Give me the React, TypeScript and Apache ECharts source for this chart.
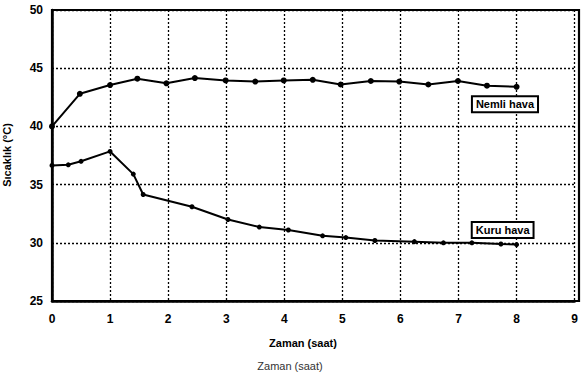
import React, { useEffect, useRef } from "react";
import * as echarts from "echarts";

const nemliTime = [0, 0.48, 1, 1.47, 1.97, 2.46, 2.99, 3.5, 3.99, 4.49, 4.97, 5.49, 5.98, 6.48, 6.99, 7.49, 8.0];
const nemliTemp = [40.0, 42.8, 43.55, 44.1, 43.7, 44.15, 43.95, 43.85, 43.95, 44.0, 43.6, 43.9, 43.85, 43.6, 43.9, 43.5, 43.4];
const kuruTime = [0, 0.28, 0.5, 1, 1.4, 1.57, 2.41, 3.03, 3.57, 4.07, 4.66, 5.06, 5.56, 6.24, 6.74, 7.23, 7.73, 8.0];
const kuruTemp = [36.65, 36.7, 37.0, 37.85, 35.9, 34.15, 33.1, 32.0, 31.35, 31.1, 30.6, 30.45, 30.2, 30.1, 30.0, 30.0, 29.9, 29.85];
const xTicks = [0, 1, 2, 3, 4, 5, 6, 7, 8, 9];
const yTicks = [25, 30, 35, 40, 45, 50];
const nemliLabel = { text: "Nemli hava", at: [7.8, 41.9] };
const kuruLabel = { text: "Kuru hava", at: [7.76, 31.1] };

const FONT = "'Liberation Sans', Arial, sans-serif";
const GRID = { left: 52, top: 10, width: 527, height: 291 };

export default function App() {
  const ref = useRef<HTMLDivElement>(null);
  useEffect(() => {
    if (!ref.current) return;
    const chart = echarts.init(ref.current, null, { renderer: "svg" });
    const pairs = (xs: number[], ys: number[]) => xs.map((x, i) => [x, ys[i]]);
    const boxLabel = (l: { text: string; at: number[] }) => ({
      symbol: "circle",
      symbolSize: 0,
      data: [
        {
          coord: l.at,
          value: l.text,
          label: {
            show: true,
            position: "inside",
            formatter: l.text,
            color: "#000",
            fontFamily: "'Liberation Sans Narrow', 'Liberation Sans', Arial, sans-serif",
            fontWeight: "bold",
            fontSize: 11,
            backgroundColor: "#fff",
            borderColor: "#000",
            borderWidth: 2,
            padding: [2, 3, 1, 3],
          },
        },
      ],
    });
    const frameAxis = { show: true, onZero: false, lineStyle: { color: "#000", width: 2.5 } };
    chart.setOption({
      animation: false,
      backgroundColor: "#fff",
      grid: GRID,
      xAxis: {
        type: "value",
        min: xTicks[0],
        max: xTicks[xTicks.length - 1],
        interval: 1,
        axisLine: frameAxis,
        axisTick: { show: false },
        axisLabel: {
          color: "#000",
          fontFamily: FONT,
          fontWeight: "bold",
          fontSize: 12,
          margin: 12,
          showMaxLabel: true,
        },
        splitLine: { show: true, lineStyle: { color: "#000", width: 1.3, type: [2, 2] } },
      },
      yAxis: {
        type: "value",
        min: yTicks[0],
        max: yTicks[yTicks.length - 1],
        interval: 5,
        axisLine: frameAxis,
        axisTick: { show: false },
        axisLabel: {
          color: "#000",
          fontFamily: FONT,
          fontWeight: "bold",
          fontSize: 12,
          margin: 9,
        },
        splitLine: { show: true, lineStyle: { color: "#000", width: 1.3, type: [2, 2] } },
      },
      graphic: [
        {
          type: "rect",
          z: 5,
          shape: { x: GRID.left, y: GRID.top, width: GRID.width, height: GRID.height },
          style: { fill: "none", stroke: "#000", lineWidth: 2.2 },
          silent: true,
        },
        {
          type: "text",
          x: 7,
          y: 155,
          rotation: Math.PI / 2,
          style: {
            text: "Sıcaklık (°C)",
            fill: "#000",
            font: `bold 11px ${FONT}`,
            align: "center",
            verticalAlign: "middle",
          },
        },
        {
          type: "text",
          x: 303,
          y: 343,
          style: {
            text: "Zaman (saat)",
            fill: "#000",
            font: `bold 11px ${FONT}`,
            align: "center",
            verticalAlign: "middle",
          },
        },
        {
          type: "text",
          x: 290,
          y: 366,
          style: {
            text: "Zaman (saat)",
            fill: "#333",
            font: `11px ${FONT}`,
            align: "center",
            verticalAlign: "middle",
          },
        },
      ],
      series: [
        {
          name: "Nemli hava",
          type: "line",
          data: pairs(nemliTime, nemliTemp),
          symbol: "circle",
          symbolSize: 6,
          itemStyle: { color: "#000" },
          lineStyle: { color: "#000", width: 2 },
          markPoint: boxLabel(nemliLabel),
        },
        {
          name: "Kuru hava",
          type: "line",
          data: pairs(kuruTime, kuruTemp),
          symbol: "circle",
          symbolSize: 5,
          itemStyle: { color: "#000" },
          lineStyle: { color: "#000", width: 2 },
          markPoint: boxLabel(kuruLabel),
        },
      ],
    });
    return () => chart.dispose();
  }, []);
  return <div ref={ref} style={{ width: 581, height: 377, position: "absolute", left: 0, top: 0 }} />;
}
